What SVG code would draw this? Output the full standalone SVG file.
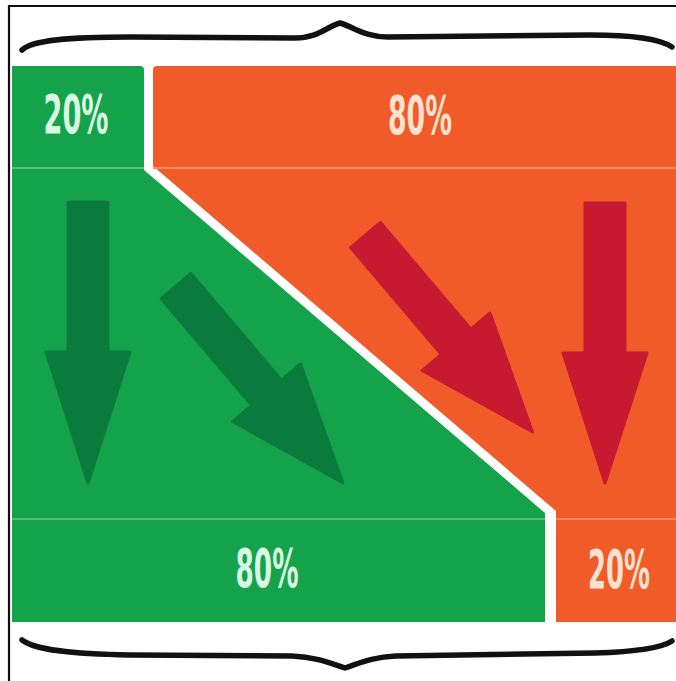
<svg xmlns="http://www.w3.org/2000/svg" width="676" height="681" viewBox="0 0 676 681">
  <style>
    .green { fill: #14a34b; }
    .orange { fill: #f15a29; }
    .darkg { fill: #0b7a3d; stroke: #0b7a3d; stroke-width: 3; stroke-linejoin: round; }
    .red { fill: #c71a30; stroke: #c71a30; stroke-width: 3; stroke-linejoin: round; }
    .gline { stroke: #4cc077; stroke-width: 2; fill: none; }
    .oline { stroke: #f7895a; stroke-width: 2; fill: none; }
    .brace { fill: none; stroke: #111; stroke-width: 5.5; stroke-linecap: round; stroke-linejoin: round; }
    .lbl { font-family: "Liberation Sans Narrow", "DejaVu Sans Condensed", "Liberation Sans", sans-serif; font-weight: bold; font-size: 54px; text-anchor: middle; }
    .lg { fill: #d9f7e2; }
    .lo { fill: #fde2cf; }
  </style>
  <defs>
    <path id="arrD" d="M0,-19.5 L140,-19.5 L140,-44.5 L258,0 L140,44.5 L140,19.5 L0,19.5 Z"/>
  </defs>
  <rect width="676" height="681" fill="#ffffff"/>
  <!-- frame -->
  <path d="M9,681 L9,6 L676,6" fill="none" stroke="#111" stroke-width="2.2"/>
  <!-- braces -->
  <g id="brace-top">
    <path class="brace" d="M22,50 C32,40 70,37 130,37 L295,38 C318,38 326,27 340,23 C354,27 364,37 388,37 L590,35 C630,35 660,39 672,47"/>
  </g>
  <g id="brace-bottom">
    <path class="brace" d="M22,640 C35,650 70,654 130,655 L292,656 C316,657 330,663 345,668 C360,663 372,657 396,656 L595,653 C630,652 660,649 672,641"/>
  </g>
  <!-- green region -->
  <g id="green-region">
    <path class="green" d="M12,66 L140,66 Q144,66 144,70 L144,170 L545,513 L545,622 L12,622 Z"/>
    <line class="gline" x1="12" y1="168" x2="144" y2="168"/>
    <line class="gline" x1="12" y1="519" x2="545" y2="519"/>
  </g>
  <!-- orange region -->
  <g id="orange-region">
    <path class="orange" d="M157,66 L676,66 L676,622 L556,622 L556,511 L153,166 L153,70 Q153,66 157,66 Z"/>
    <line class="oline" x1="153" y1="168" x2="676" y2="168"/>
    <line class="oline" x1="556" y1="519" x2="676" y2="519"/>
  </g>
  <!-- arrows -->
  <g id="arrow-green-down">
    <path class="darkg" d="M68,202 L108,202 L108,352 L130,352 L88,483 L46,352 L68,352 Z"/>
  </g>
  <g id="arrow-green-diag">
    <use href="#arrD" class="darkg" transform="translate(176,286) rotate(49.7)"/>
  </g>
  <g id="arrow-red-diag">
    <use href="#arrD" class="red" transform="translate(365.5,235) rotate(49.7)"/>
  </g>
  <g id="arrow-red-down">
    <path class="red" d="M585,203 L625,203 L625,353 L647,353 L605,483 L563,353 L585,353 Z"/>
  </g>
  <!-- labels -->
  <g id="label-top-green">
    <text class="lbl lg" x="76" y="133" textLength="65" lengthAdjust="spacingAndGlyphs">20%</text>
  </g>
  <g id="label-top-orange">
    <text class="lbl lo" x="420" y="134" textLength="64" lengthAdjust="spacingAndGlyphs">80%</text>
  </g>
  <g id="label-bottom-green">
    <text class="lbl lg" x="267" y="587" textLength="63" lengthAdjust="spacingAndGlyphs">80%</text>
  </g>
  <g id="label-bottom-orange">
    <text class="lbl lo" x="619" y="588" textLength="62" lengthAdjust="spacingAndGlyphs">20%</text>
  </g>
</svg>
